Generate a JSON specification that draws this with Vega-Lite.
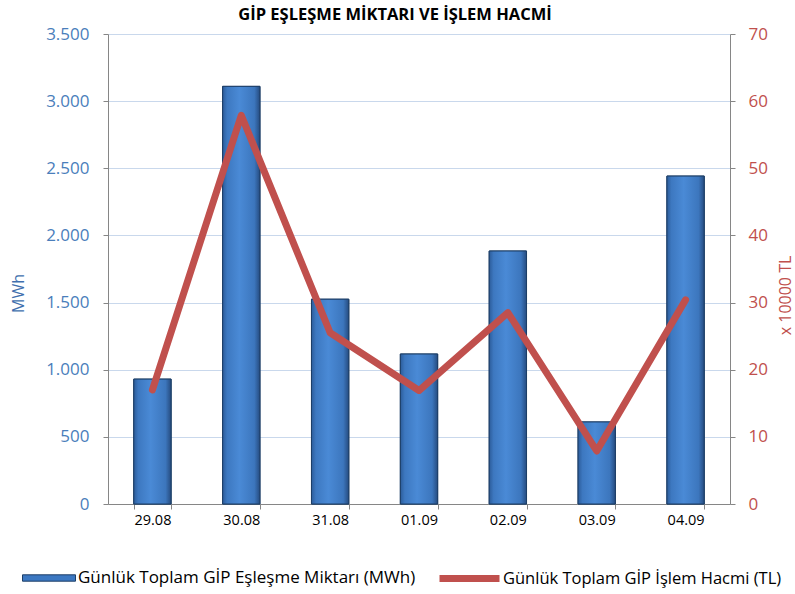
{
  "$schema": "https://vega.github.io/schema/vega-lite/v6.json",
  "width": 622,
  "height": 470,
  "autosize": "none",
  "padding": {"left": 108, "top": 34, "right": 65, "bottom": 90},
  "background": "white",
  "title": {
    "text": "GİP EŞLEŞME MİKTARI VE İŞLEM HACMİ",
    "fontSize": 16.5,
    "fontWeight": "bold",
    "font": "Open Sans",
    "color": "#000000",
    "anchor": "middle",
    "dx": -24,
    "offset": 2
  },
  "data": {
    "values": [
      {"tarih": "29.08", "mwh": 930, "tl": 17.0},
      {"tarih": "30.08", "mwh": 3110, "tl": 57.9},
      {"tarih": "31.08", "mwh": 1525, "tl": 25.5},
      {"tarih": "01.09", "mwh": 1117, "tl": 16.9},
      {"tarih": "02.09", "mwh": 1884, "tl": 28.5},
      {"tarih": "03.09", "mwh": 611, "tl": 7.9},
      {"tarih": "04.09", "mwh": 2442, "tl": 30.4}
    ]
  },
  "encoding": {
    "x": {
      "field": "tarih",
      "type": "ordinal",
      "sort": null,
      "title": null,
      "scale": {"paddingInner": 0.58, "paddingOuter": 0.29},
      "axis": {
        "labelAngle": 0,
        "labelFontSize": 14.5,
        "labelColor": "#000000",
        "labelFont": "Open Sans",
        "labelPadding": 4,
        "tickBand": "extent",
        "tickSize": 5,
        "tickColor": "#868686",
        "domainColor": "#868686",
        "grid": false
      }
    }
  },
  "layer": [
    {
      "encoding": {
        "y": {
          "field": "mwh",
          "type": "quantitative",
          "title": "MWh",
          "scale": {"domain": [0, 3500], "nice": false},
          "axis": {
            "orient": "left",
            "values": [0, 500, 1000, 1500, 2000, 2500, 3000, 3500],
            "labelExpr": "replace(format(datum.value, ','), ',', '.')",
            "labelFontSize": 17,
            "labelFont": "Open Sans",
            "labelColor": "#4A7EBB",
            "labelPadding": 14,
            "tickSize": 5,
            "tickColor": "#868686",
            "domainColor": "#868686",
            "grid": true,
            "gridColor": "#C9D8EC",
            "titleFontSize": 16,
            "titleFont": "Open Sans",
            "titleFontWeight": "normal",
            "titleColor": "#3F6FAE",
            "titleX": -90,
            "titleY": 259,
            "titleAngle": -90,
            "titleAlign": "center",
            "titleBaseline": "middle"
          }
        }
      },
      "layer": [
        {
          "mark": {"type": "bar", "stroke": "#1D3E66", "strokeWidth": 1},
          "encoding": {
            "fill": {
              "datum": "Günlük Toplam GİP Eşleşme Miktarı (MWh)",
              "type": "nominal",
              "scale": {"range": ["#3C78C2"]},
              "legend": {
                "orient": "none",
                "legendX": -86,
                "legendY": 517,
                "title": null,
                "symbolType": "M-1,-0.12H1V0.12H-1Z",
                "symbolSize": 2809,
                "symbolStrokeColor": "#1D3E66",
                "symbolStrokeWidth": 1,
                "labelFontSize": 17,
                "labelFont": "Open Sans",
                "labelColor": "#000000",
                "labelOffset": 2,
                "labelLimit": 400
              }
            }
          }
        },
        {
          "mark": {
            "type": "bar",
            "stroke": "#1D3E66",
            "strokeWidth": 1,
            "fill": {
              "gradient": "linear",
              "x1": 0, "x2": 1, "y1": 0, "y2": 0,
              "stops": [
                {"offset": 0, "color": "#2C5C9A"},
                {"offset": 0.12, "color": "#3D78C0"},
                {"offset": 0.45, "color": "#4A8AD6"},
                {"offset": 0.85, "color": "#3C76BD"},
                {"offset": 1, "color": "#264C80"}
              ]
            }
          }
        }
      ]
    },
    {
      "mark": {"type": "line", "strokeWidth": 7, "strokeCap": "round", "strokeJoin": "round"},
      "encoding": {
        "y": {
          "field": "tl",
          "type": "quantitative",
          "title": "x 10000 TL",
          "scale": {"domain": [0, 70], "nice": false},
          "axis": {
            "orient": "right",
            "values": [0, 10, 20, 30, 40, 50, 60, 70],
            "labelFontSize": 17,
            "labelFont": "Open Sans",
            "labelColor": "#C0504D",
            "labelPadding": 13,
            "tickSize": 5,
            "tickColor": "#868686",
            "domainColor": "#868686",
            "grid": false,
            "titleFontSize": 16,
            "titleFont": "Open Sans",
            "titleFontWeight": "normal",
            "titleColor": "#C0504D",
            "titleX": 55,
            "titleY": 261,
            "titleAngle": -90,
            "titleAlign": "center",
            "titleBaseline": "middle"
          }
        },
        "stroke": {
          "datum": "Günlük Toplam GİP İşlem Hacmi (TL)",
          "type": "nominal",
          "scale": {"range": ["#C0504D"]},
          "legend": {
            "orient": "none",
            "legendX": 328,
            "legendY": 511,
            "title": null,
            "symbolType": "M-1,0H1",
            "symbolSize": 3600,
            "symbolStrokeWidth": 7,
            "labelFontSize": 16.5,
            "labelFont": "Open Sans",
            "labelColor": "#000000",
            "labelOffset": 0,
            "labelLimit": 400
          }
        }
      }
    }
  ],
  "resolve": {"scale": {"y": "independent", "fill": "independent", "stroke": "independent"}},
  "config": {"view": {"stroke": null}, "font": "Open Sans"}
}
